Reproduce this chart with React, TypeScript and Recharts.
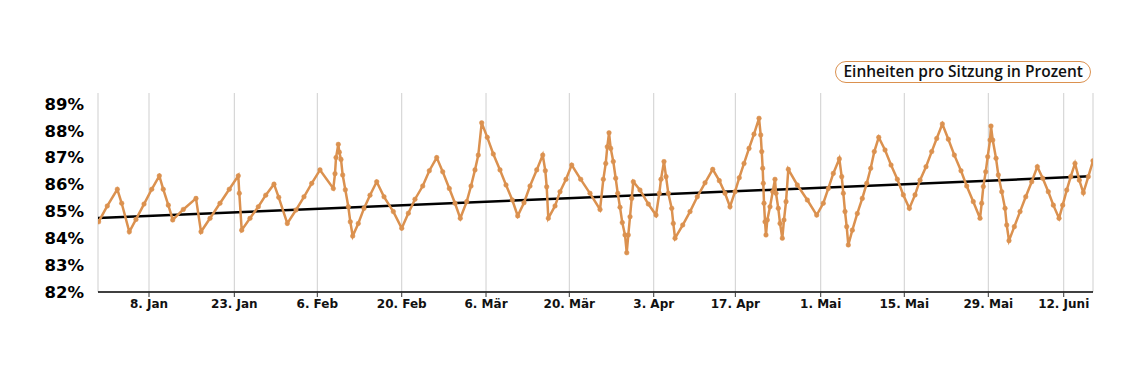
import React from "react";
import { LineChart, Line, XAxis, YAxis, CartesianGrid } from "recharts";

// x = days since start of the period (approx.), y = percent
const DAYS = [
  0.1, 1.55, 3.22, 3.95, 5.22, 6.33, 7.67, 8.95, 10.22, 10.88, 11.72, 12.45, 14.22, 16.33, 17.17, 18.67,
  20.33, 21.88, 23.38, 23.55, 23.95, 25.33, 26.72, 27.95, 29.33, 30.12, 31.55, 33.0, 34.33, 35.62, 37.0,
  39.22, 39.5, 39.67, 40.05, 40.22, 40.5, 40.78, 41.22, 41.72, 42.05, 42.45, 43.38, 44.33, 45.33, 46.45,
  47.67, 49.22, 50.62, 51.72, 52.83, 54.12, 55.22, 56.45, 57.45, 58.55, 59.5, 60.38, 61.45, 62.17, 62.83,
  63.38, 63.95, 64.88, 65.88, 67.0, 68.0, 69.05, 69.95, 71.0, 72.0, 73.12, 74.12, 74.55, 74.78, 75.05,
  76.17, 77.0, 78.0, 78.95, 80.45, 82.0, 83.67, 84.22, 84.62, 84.88, 85.17, 85.45, 85.88, 86.28, 86.62,
  87.0, 87.38, 87.83, 88.12, 88.38, 88.67, 88.95, 89.22, 90.33, 91.72, 93.0, 93.55, 93.83, 94.33, 94.67,
  95.05, 95.62, 95.88, 96.17, 97.45, 98.67, 99.88, 101.17, 102.45, 103.55, 104.5, 105.33, 106.17, 106.88,
  107.67, 108.5, 109.33, 110.17, 110.45, 110.62, 110.78, 110.88, 111.0, 111.17, 111.33, 111.55, 112.0,
  112.45, 112.83, 113.0, 113.38, 113.67, 114.05, 114.33, 114.67, 115.05, 116.55, 118.22, 119.78, 120.88,
  121.72, 122.55, 123.55, 123.95, 124.22, 124.5, 124.78, 125.05, 125.72, 126.55, 127.38, 128.12, 128.78,
  129.38, 130.12, 131.17, 132.17, 133.22, 134.22, 135.22, 136.17, 137.0, 138.0, 138.95, 139.78, 140.72,
  141.72, 142.72, 143.83, 144.78, 145.88, 147.0, 147.28, 147.55, 147.95, 148.28, 148.67, 148.83, 149.12,
  149.67, 150.05, 150.62, 151.17, 151.45, 151.83, 152.72, 153.67, 154.62, 155.62, 156.55, 157.45, 158.38,
  159.22, 160.17, 160.78, 161.45, 162.12, 162.83, 163.55, 164.22, 165.05, 165.83,
];

const RATE = [
  84.61, 85.2, 85.82, 85.3, 84.24, 84.7, 85.27, 85.82, 86.32, 85.82, 85.23, 84.68, 85.07, 85.48, 84.24, 84.74,
  85.3, 85.82, 86.32, 85.67, 84.3, 84.74, 85.17, 85.6, 86.01, 85.52, 84.55, 85.05, 85.54, 86.04, 86.54,
  85.85, 86.4, 87.0, 87.49, 87.2, 86.93, 86.35, 85.8, 85.17, 84.61, 84.08, 84.55, 85.11, 85.6, 86.1,
  85.54, 84.99, 84.37, 84.93, 85.45, 85.94, 86.51, 87.0, 86.47, 85.85, 85.3, 84.74, 85.36, 85.94, 86.54,
  87.09, 88.29, 87.75, 87.13, 86.54, 85.98, 85.42, 84.83, 85.32, 85.94, 86.54, 87.09, 86.51, 85.91, 84.74,
  85.2, 85.73, 86.19, 86.72, 86.19, 85.67, 85.07, 86.19, 86.78, 87.4, 87.92, 87.34, 86.85, 86.23, 85.67,
  85.15, 84.58, 84.12, 83.46, 84.12, 84.8, 85.48, 86.1, 85.79, 85.27, 84.86, 85.67, 86.19, 86.85, 86.29,
  85.67, 85.11, 84.55, 84.0, 84.49, 84.99, 85.54, 86.06, 86.56, 86.14, 85.67, 85.17, 85.73, 86.25,
  86.78, 87.34, 87.87, 88.46, 87.84, 87.22, 86.6, 86.04, 85.3, 84.61, 84.12, 84.68, 85.17,
  85.73, 86.19, 85.67, 85.11, 84.55, 84.0, 84.68, 85.36, 86.56, 85.98, 85.42, 84.86, 85.3,
  85.85, 86.41, 86.95, 86.29, 85.67, 84.99, 84.43, 83.75, 84.3, 84.92, 85.48, 86.04, 86.6,
  87.22, 87.75, 87.28, 86.72, 86.19, 85.61, 85.11, 85.61, 86.16, 86.66, 87.22, 87.71, 88.25,
  87.68, 87.09, 86.51, 85.94, 85.36, 84.74, 85.3, 85.92, 86.47, 87.03, 87.65, 88.17, 87.65,
  86.97, 86.35, 85.73, 85.11, 84.49, 83.91, 84.43, 84.99, 85.54, 86.1, 86.66, 86.23, 85.73,
  85.23, 84.74, 85.23, 85.79, 86.29, 86.78, 86.16, 85.69, 86.29, 86.88,
];

const TREND_DAYS = [0, 165.3];
const TREND_RATE = [84.75, 86.3];

const TICK_DAYS = [8.5, 22.72, 36.55, 50.62, 64.67, 78.55, 92.62, 106.22, 120.45, 134.38, 148.38, 160.95];
const TICK_LABELS = ["8. Jan", "23. Jan", "6. Feb", "20. Feb", "6. Mär", "20. Mär", "3. Apr", "17. Apr", "1. Mai", "15. Mai", "29. Mai", "12. Juni"];
const Y_TICKS = [82, 83, 84, 85, 86, 87, 88, 89];

const SERIES_NAME = "Einheiten pro Sitzung in Prozent";
const ORANGE = "#DB914F";

const data = DAYS.map((d, i) => ({ day: d, rate: RATE[i] }));
const trend = TREND_DAYS.map((d, i) => ({ day: d, trend: TREND_RATE[i] }));

export default function App() {
  return (
    <div style={{ position: "absolute", left: 0, top: 0, width: 1123, height: 377, background: "#fff" }}>
      <LineChart
        width={1123}
        height={377}
        data={data}
        margin={{ top: 93, right: 30, bottom: 55, left: 0 }}
        style={{ fontFamily: "'DejaVu Sans', sans-serif" }}
      >
        <CartesianGrid horizontal={false} vertical={true} stroke="#cfcfcf" strokeWidth={1} />
        <XAxis
          dataKey="day"
          type="number"
          domain={[0, 165.83]}
          ticks={TICK_DAYS}
          interval={0}
          tickFormatter={(v: number) => TICK_LABELS[TICK_DAYS.indexOf(v)] ?? ""}
          axisLine={{ stroke: "#000", strokeWidth: 1.5 }}
          tickLine={{ stroke: "#333" }}
          tickSize={5}
          tick={{ fill: "#111", fontSize: 12, fontWeight: 700 }}
          height={30}
          allowDataOverflow
        />
        <YAxis
          type="number"
          domain={[82, 89.4]}
          ticks={Y_TICKS}
          interval={0}
          tickFormatter={(v: number) => `${v}%`}
          axisLine={false}
          tickLine={false}
          tickSize={8}
          tickMargin={6}
          width={98}
          tick={{ fill: "#000", fontSize: 16.5, fontWeight: 700 }}
          allowDataOverflow
        />
        <Line
          data={trend}
          dataKey="trend"
          stroke="#000"
          strokeWidth={2.5}
          dot={false}
          activeDot={false}
          isAnimationActive={false}
          legendType="none"
        />
        <Line
          dataKey="rate"
          name={SERIES_NAME}
          stroke={ORANGE}
          strokeWidth={2.5}
          dot={{ r: 2.3, fill: ORANGE, stroke: ORANGE, strokeWidth: 0.5 }}
          activeDot={false}
          isAnimationActive={false}
        />
      </LineChart>
      <div
        style={{
          position: "absolute",
          right: 32,
          top: 61,
          border: `1px solid ${ORANGE}`,
          borderRadius: 11,
          padding: "1px 7px 2px 7px",
          fontFamily: "'Open Sans', sans-serif",
          fontWeight: 600,
          fontSize: 15.5,
          color: "#111",
          lineHeight: "17px",
          whiteSpace: "nowrap",
        }}
      >
        {SERIES_NAME}
      </div>
    </div>
  );
}
